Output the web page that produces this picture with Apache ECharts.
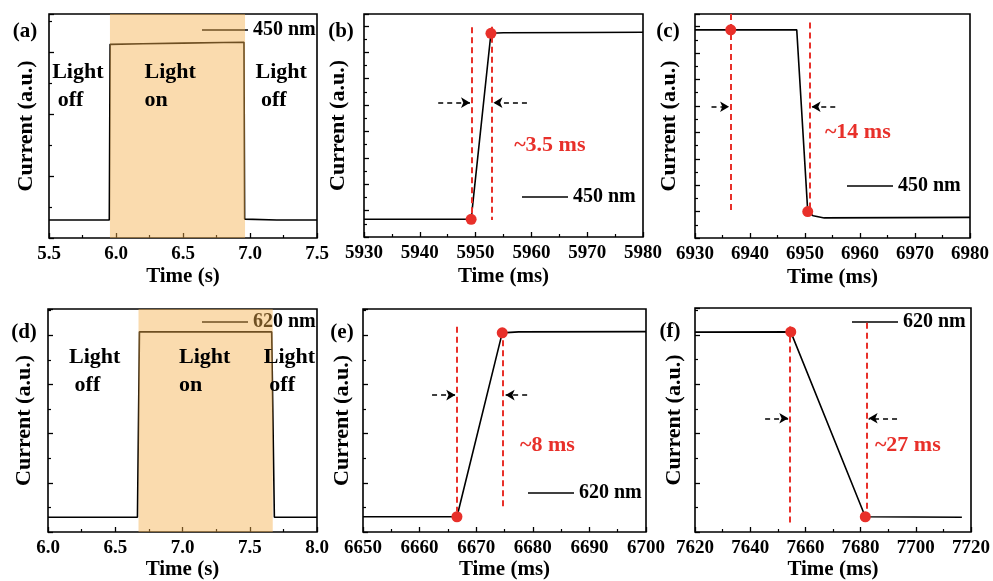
<!DOCTYPE html>
<html><head><meta charset="utf-8">
<script src="https://cdn.jsdelivr.net/npm/echarts@6/dist/echarts.min.js"></script>
<style>html,body{margin:0;padding:0;background:#fff}#c{width:993px;height:581px}</style>
</head><body><div id="c"></div>
<script>
// ---------- data ----------
// (a) 450 nm, full cycle (s)
const aXTicks = [5.5, 6.0, 6.5, 7.0, 7.5];
const aTime = [5.5, 5.95, 5.956, 6.2, 6.5, 6.8, 6.955, 6.96, 7.2, 7.5];
const aCurrent = [0.58, 0.58, 6.25, 6.27, 6.29, 6.31, 6.32, 0.61, 0.58, 0.58];
const aLightOn = [5.955, 6.963];
// (b) 450 nm rise (ms)
const bXTicks = [5930, 5940, 5950, 5960, 5970, 5980];
const bTime = [5930, 5949.2, 5952.75, 5955, 5970, 5980];
const bCurrent = [0.67, 0.67, 7.72, 7.74, 7.75, 7.76];
const bMarked = [1, 2];
// (c) 450 nm decay (ms)
const cXTicks = [6930, 6940, 6950, 6960, 6970, 6980];
const cTime = [6930, 6936.5, 6948.5, 6950.5, 6951.5, 6953.5, 6980];
const cCurrent = [7.88, 7.88, 7.88, 1.0, 0.84, 0.76, 0.78];
const cMarked = [1, 3];
// (d) 620 nm, full cycle (s)
const dXTicks = [6.0, 6.5, 7.0, 7.5, 8.0];
const dTime = [6.0, 6.665, 6.68, 7.0, 7.4, 7.663, 7.683, 8.0];
const dCurrent = [0.6, 0.6, 8.14, 8.14, 8.14, 8.14, 0.6, 0.6];
const dLightOn = [6.673, 7.671];
// (e) 620 nm rise (ms)
const eXTicks = [6650, 6660, 6670, 6680, 6690, 6700];
const eTime = [6650, 6666.6, 6674.6, 6677.5, 6700];
const eCurrent = [0.62, 0.62, 8.1, 8.14, 8.15];
const eMarked = [1, 2];
// (f) 620 nm decay (ms)
const fXTicks = [7620, 7640, 7660, 7680, 7700, 7720];
const fTime = [7620, 7654.7, 7681.7, 7716.7];
const fCurrent = [8.12, 8.13, 0.62, 0.6];
const fMarked = [1, 2];

const seriesNames = ['450 nm', '620 nm'];
const timeLabels = ['Time (s)', 'Time (ms)'];
const yLabel = 'Current (a.u.)';
const panelLetters = ['(a)', '(b)', '(c)', '(d)', '(e)', '(f)'];

// ---------- layout ----------
const FONT = '"Liberation Serif","Times New Roman",serif';
const RED = '#E8302A';
const panels = [
  {grid:{left:49,top:14,width:268,height:224}, ticks:aXTicks, dec:1, yMax:7.23, yInt:2, xName:timeLabels[0], xGap:28, yGap:12,
   time:aTime, cur:aCurrent, name:seriesNames[0], lightOn:aLightOn, letter:[25,32], legend:[202,30],
   notes:[[5.52,4.89,'Light\n off'],[6.209,4.89,'Light\non'],[7.037,4.89,'Light\n off']]},
  {grid:{left:364,top:14,width:279,height:223}, ticks:bXTicks, dec:0, yMax:8.45, yInt:1, xName:timeLabels[1], xGap:29, yGap:15,
   time:bTime, cur:bCurrent, marked:bMarked, name:seriesNames[0], letter:[341,32], legend:[522,197],
   dashes:[[5949.3,7.95,0.76],[5952.9,7.97,0.64]], arrows:[[5943.3,5949.0,5.09],[5959.2,5953.2,5.09]], red:['~3.5 ms',5963.3,3.46]},
  {grid:{left:695,top:14,width:275,height:224}, ticks:cXTicks, dec:0, yMax:8.48, yInt:1, xName:timeLabels[1], xGap:29, yGap:15,
   time:cTime, cur:cCurrent, marked:cMarked, name:seriesNames[0], letter:[668,32], legend:[847,186],
   dashes:[[6936.5,8.48,0.93],[6950.8,8.16,0.93]], arrows:[[6933.0,6936.2,4.97],[6955.5,6951.2,4.97]], red:['~14 ms',6959.6,4.0]},
  {grid:{left:48,top:309,width:269,height:223}, ticks:dXTicks, dec:1, yMax:9.07, yInt:2, xName:timeLabels[0], xGap:25, yGap:13,
   time:dTime, cur:dCurrent, name:seriesNames[1], lightOn:dLightOn, letter:[24,333], legend:[202,322],
   notes:[[6.153,6.55,'Light\n off'],[6.97,6.55,'Light\non'],[7.601,6.55,'Light\n off']]},
  {grid:{left:363,top:309,width:283,height:223}, ticks:eXTicks, dec:0, yMax:9.07, yInt:2, xName:timeLabels[1], xGap:27, yGap:10,
   time:eTime, cur:eCurrent, marked:eMarked, name:seriesNames[1], letter:[342,333], legend:[528,493],
   dashes:[[6666.6,8.35,0.83],[6674.7,7.8,0.89]], arrows:[[6662.2,6666.3,5.57],[6679.0,6675.2,5.57]], red:['~8 ms',6682.6,3.54]},
  {grid:{left:695,top:308,width:276,height:224}, ticks:fXTicks, dec:0, yMax:9.1, yInt:2, xName:timeLabels[1], xGap:27, yGap:10,
   time:fTime, cur:fCurrent, marked:fMarked, name:seriesNames[1], letter:[670,332], legend:[852,322],
   dashes:[[7654.5,8.35,0.35],[7682.2,8.5,0.77]], arrows:[[7645.4,7653.8,4.62],[7693.2,7682.9,4.62]], red:['~27 ms',7697.1,3.54]}
];

const grid = [], xAxis = [], yAxis = [], series = [], legend = [], graphic = [];
panels.forEach((p, i) => {
  grid.push(Object.assign({show:true, borderColor:'#000', borderWidth:1.6, backgroundColor:'transparent'}, p.grid));
  const t = p.ticks;
  xAxis.push({type:'value', gridIndex:i, min:t[0], max:t[t.length-1], interval:t[1]-t[0],
    name:p.xName, nameLocation:'middle', nameGap:p.xGap,
    nameTextStyle:{fontFamily:FONT, fontWeight:'bold', fontSize:21, color:'#000'},
    axisLine:{show:false}, splitLine:{show:false},
    axisTick:{show:true, inside:true, length:5, lineStyle:{color:'#000', width:1.3}},
    minorTick:{show:true, splitNumber:2, length:3, lineStyle:{color:'#000', width:1.2}},
    axisLabel:{show:true, margin:7, fontFamily:FONT, fontWeight:'bold', fontSize:19, color:'#000',
      formatter:v => v.toFixed(p.dec), showMinLabel:true, showMaxLabel:true}});
  yAxis.push({type:'value', gridIndex:i, min:0, max:p.yMax, interval:p.yInt,
    name:yLabel, nameLocation:'middle', nameGap:p.yGap, nameRotate:90,
    nameTextStyle:{fontFamily:FONT, fontWeight:'bold', fontSize:22, color:'#000'},
    axisLine:{show:false}, splitLine:{show:false}, axisLabel:{show:false},
    axisTick:{show:true, inside:true, length:5, lineStyle:{color:'#000', width:1.3}},
    minorTick:{show:true, splitNumber:2, length:3, lineStyle:{color:'#000', width:1.2}}});

  const pts = p.time.map((x, k) => [x, p.cur[k]]);
  const main = {type:'line', name:p.name, xAxisIndex:i, yAxisIndex:i, data:pts, symbol:'none',
    color:'#000', lineStyle:{color:'#000', width:1.6}, z:2, silent:true};
  if (p.arrows) {
    main.markLine = {silent:true, symbol:['none','arrow'], symbolSize:[8,9], label:{show:false},
      lineStyle:{color:'#000', type:[5,4], width:1.6},
      data:p.arrows.map(a => [{coord:[a[0], a[2]]}, {coord:[a[1], a[2]]}])};
  }
  series.push(main);

  if (p.marked) {
    series.push({type:'scatter', xAxisIndex:i, yAxisIndex:i, z:3, silent:true,
      symbolSize:11, itemStyle:{color:RED, opacity:1},
      data:p.marked.map(k => pts[k]),
      markLine:{silent:true, symbol:'none', label:{show:false},
        lineStyle:{color:RED, type:[6,4], width:2, opacity:1},
        data:p.dashes.map(d => [{coord:[d[0], d[1]]}, {coord:[d[0], d[2]]}])}});
    series.push({type:'scatter', xAxisIndex:i, yAxisIndex:i, z:6, silent:true,
      symbolSize:1, itemStyle:{color:'rgba(0,0,0,0)', opacity:1},
      label:{show:true, position:'inside', formatter:p.red[0], fontFamily:FONT, fontWeight:'bold', fontSize:22, color:RED, opacity:1},
      data:[[p.red[1], p.red[2]]]});
  }
  if (p.lightOn) {
    series.push({type:'line', xAxisIndex:i, yAxisIndex:i, z:5, silent:true, data:[], symbol:'none',
      markArea:{silent:true, z:5, itemStyle:{color:'rgba(245,175,75,0.45)'},
        data:[[{xAxis:p.lightOn[0]}, {xAxis:p.lightOn[1]}]]}});
    series.push({type:'scatter', xAxisIndex:i, yAxisIndex:i, z:7, silent:true,
      symbolSize:1, itemStyle:{color:'rgba(0,0,0,0)', opacity:1},
      label:{show:true, position:'right', distance:0, formatter:q => q.data[2], opacity:1,
        fontFamily:FONT, fontWeight:'bold', fontSize:22, lineHeight:28, color:'#000', align:'left'},
      data:p.notes});
  }
  legend.push({data:[p.name], left:p.legend[0], top:p.legend[1]-11, padding:0, itemGap:0,
    icon:'rect', itemWidth:46, itemHeight:1.6, selectedMode:false, z:4,
    textStyle:{fontFamily:FONT, fontWeight:'bold', fontSize:20, lineHeight:22, color:'#000'}});
  graphic.push({type:'text', x:p.letter[0], y:p.letter[1], z:10,
    style:{text:panelLetters[i], fontFamily:FONT, fontWeight:'bold', fontSize:21, fill:'#000',
      textAlign:'center', textVerticalAlign:'middle'}});
});

const chart = echarts.init(document.getElementById('c'), null, {renderer:'canvas'});
chart.setOption({animation:false, backgroundColor:'#fff', grid, xAxis, yAxis, series, legend, graphic});
</script></body></html>
